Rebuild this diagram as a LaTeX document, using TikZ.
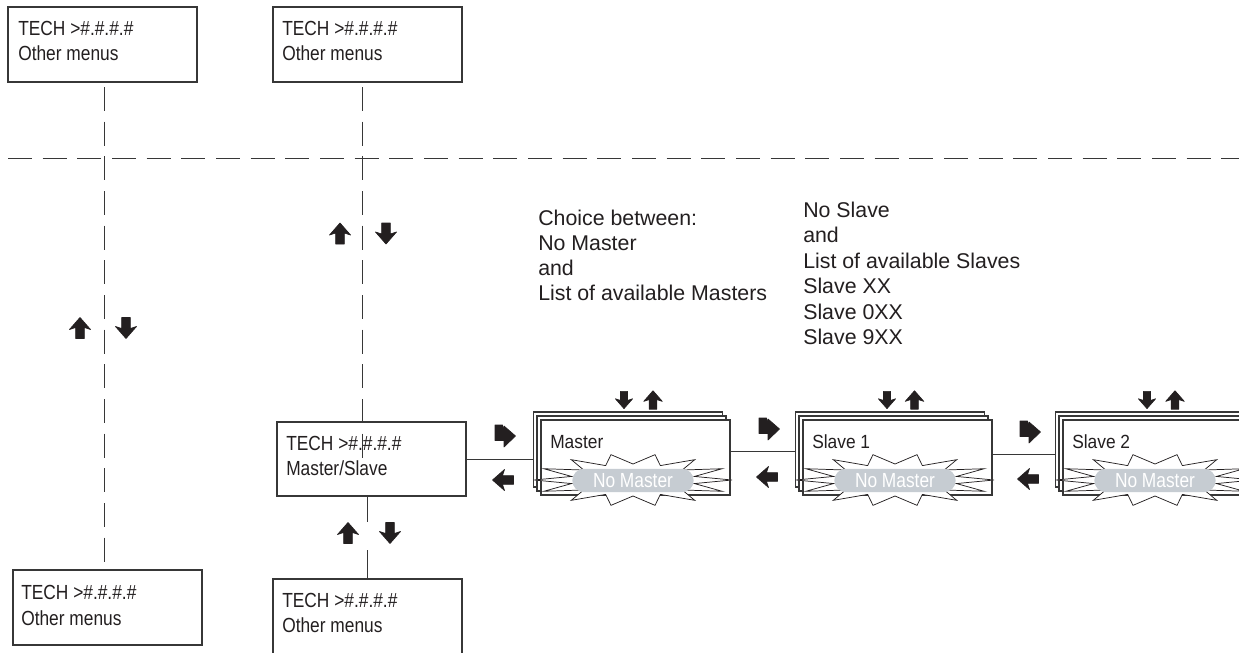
\documentclass[tikz,border=0pt]{standalone}
\usepackage{fontspec}
\setmainfont{Liberation Sans}
\newfontfamily\condfont[FakeStretch=0.85]{Liberation Sans}
\newfontfamily\labfont[FakeStretch=0.91]{Liberation Sans}
\usetikzlibrary{calc}
\definecolor{ink}{RGB}{35,31,32}
\definecolor{pillgray}{RGB}{198,204,210}
\definecolor{linegray}{RGB}{55,55,55}
\newcommand\menustack[3]{%
  \node[sheet] (#1r) at (#2-7.5,412) {};
  \node[sheet] (#1m) at (#2-4,416) {};
  \node[sheet] (#1f) at (#2,420) {};
  \draw[burst] plot[samples at={0,...,27}]
    ({#2+92+(63+36*(1-mod(\x,2)))*cos(\x*360/28)},{480+(16+10*(1-mod(\x,2)))*sin(\x*360/28)}) -- cycle;
  \node[pill] (#1p) at (#2+92,480.5) {No Master};
  \node[lab] (#1l) at (#2+9,448) {#3};
}
\begin{document}
\begin{tikzpicture}[x=0.75pt,y=-0.75pt,
  menubox/.style={draw=linegray, line width=0.8pt, fill=white, rectangle, anchor=north west,
    minimum width=141.75pt, minimum height=56.25pt, inner sep=0pt, outer sep=0pt},
  sheet/.style={menubox},
  boxtext/.style={anchor=base west, inner sep=0pt, font=\condfont\fontsize{15.3}{18}\selectfont, text=ink},
  desc/.style={anchor=base west, inner sep=0pt, font=\fontsize{16}{19}\selectfont, text=ink},
  lab/.style={anchor=base west, inner sep=0pt, font=\labfont\fontsize{14.3}{17}\selectfont, text=ink},
  pill/.style={rectangle, rounded corners=8.8pt, fill=pillgray, minimum width=91pt, minimum height=17.6pt,
    inner sep=0pt, text=white, font=\condfont\fontsize{15.3}{18}\selectfont},
  dashline/.style={draw=linegray, line width=0.7pt, dash pattern=on 18pt off 8pt, dash phase=-6pt},
  conn/.style={draw=linegray, line width=0.7pt},
  burst/.style={draw=ink, line width=0.55pt, fill=white, line join=miter},
  arrink/.style={fill=ink, draw=ink, line width=0.5pt, line join=round},
  upar/.pic={\filldraw[arrink] (0,-10.5) -- (10.5,1.5) -- (4.3,-0.5) -- (4.3,10.5) -- (-4.3,10.5) -- (-4.3,-0.5) -- (-10.5,1.5) -- cycle;},
  downar/.pic={\filldraw[arrink] (0,10.5) -- (10.5,-1.5) -- (4.3,0.5) -- (4.3,-10.5) -- (-4.3,-10.5) -- (-4.3,0.5) -- (-10.5,-1.5) -- cycle;},
  leftar/.pic={\filldraw[arrink] (-10.5,0) -- (1.5,10.5) -- (-0.5,4.3) -- (10.5,4.3) -- (10.5,-4.3) -- (-0.5,-4.3) -- (1.5,-10.5) -- cycle;},
  turnar/.pic={\filldraw[arrink] (-10,-11) -- (-2.5,-11) -- (-2.5,-6) -- (-1,-10) -- (10.5,0) -- (-1,11) -- (-1,4.5) -- (-10,4.5) -- cycle;}
]
\useasboundingbox[fill=white] (0,0) rectangle (1239,653);

% menu boxes
\node[menubox] (tl1) at (8,7) {};
\node[menubox] (tl2) at (273,7) {};
\node[menubox, minimum height=55.5pt] (ms) at (277,422) {};
\node[menubox] (bl1) at (13,570) {};
\node[menubox] (bl2) at (273,579) {};

\node[boxtext] (tl1a) at (18,35) {TECH >\#.\#.\#.\#};
\node[boxtext] (tl1b) at (18,60) {Other menus};
\node[boxtext] (tl2a) at (282,35) {TECH >\#.\#.\#.\#};
\node[boxtext] (tl2b) at (282,60) {Other menus};
\node[boxtext] (msa) at (286,450) {TECH >\#.\#.\#.\#};
\node[boxtext] (msb) at (286,475) {Master/Slave};
\node[boxtext] (bl1a) at (21,599) {TECH >\#.\#.\#.\#};
\node[boxtext] (bl1b) at (21,625) {Other menus};
\node[boxtext] (bl2a) at (282,607) {TECH >\#.\#.\#.\#};
\node[boxtext] (bl2b) at (282,632) {Other menus};

% stacks
\menustack{ma}{541}{Master}
\menustack{sa}{803}{Slave 1}
\menustack{sb}{1063}{Slave 2}

% dashed lines
\coordinate (hl) at (0,158);
\coordinate (hr) at (1239,158);
\draw[dashline] (hl) -- (hr);
\coordinate (v1) at (104,79);
\draw[dashline] (v1) -- (v1 |- bl1.north);
\coordinate (v2) at (362,79);
\coordinate (v2e) at (362,460);
\draw[dashline] (v2) -- (v2e);

% solid connectors
\coordinate (c3a) at (367,522);
\coordinate (c3b) at (367,550);
\draw[conn] (ms.south -| c3a) -- (c3a);
\draw[conn] (c3b) -- (bl2.north -| c3b);
\draw[conn] (ms.east) -- (ms.east -| mar.west);
\coordinate (j1) at (0,451);
\coordinate (j2) at (0,454);
\draw[conn] (maf.east |- j1) -- (sar.west |- j1);
\draw[conn] (saf.east |- j2) -- (sbr.west |- j2);

% description texts
\node[desc] (c1) at (538,225) {Choice between:};
\node[desc] (c2) at (538,250) {No Master};
\node[desc] (c3) at (538,275) {and};
\node[desc] (c4) at (538,300) {List of available Masters};
\node[desc] (s1) at (803,217) {No Slave};
\node[desc] (s2) at (803,242) {and};
\node[desc] (s3) at (803,268) {List of available Slaves};
\node[desc] (s4) at (803,293) {Slave XX};
\node[desc] (s5) at (803,319) {Slave 0XX};
\node[desc] (s6) at (803,344) {Slave 9XX};

% arrows
\pic at (80,328) {upar};
\pic at (126,328) {downar};
\pic at (340,233.5) {upar};
\pic at (386,233.5) {downar};
\pic at (348,533) {upar};
\pic at (390,533) {downar};
\pic at (505,436) {turnar};
\pic at (503,480) {leftar};
\pic at (769,429) {turnar};
\pic at (767,477) {leftar};
\pic at (1030,432) {turnar};
\pic at (1028,479) {leftar};
\pic[scale=0.82] at (624,400) {downar};
\pic[scale=0.88] at (653,400) {upar};
\pic[scale=0.82] at (887,400) {downar};
\pic[scale=0.88] at (914.5,400) {upar};
\pic[scale=0.82] at (1147,400) {downar};
\pic[scale=0.88] at (1175,400) {upar};
\end{tikzpicture}
\end{document}
